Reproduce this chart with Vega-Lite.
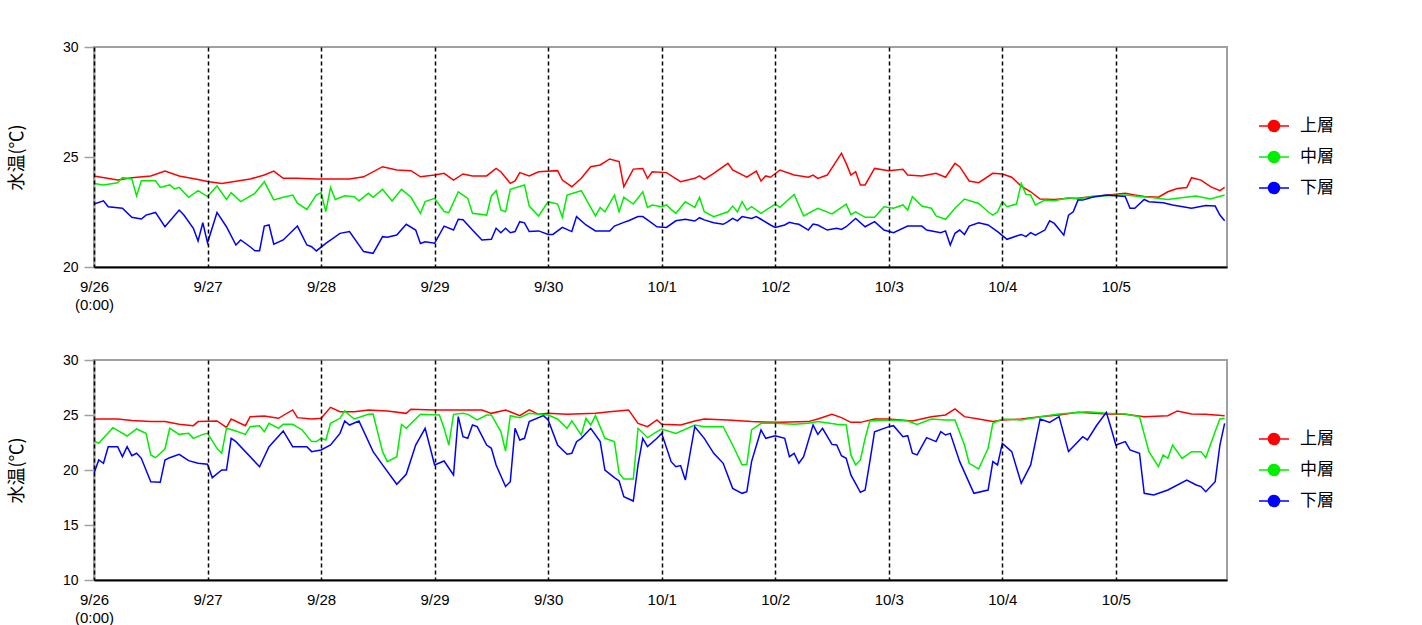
{
  "$schema": "https://vega.github.io/schema/vega-lite/v6.json",
  "background": "white",
  "padding": {"left": 7, "top": 39, "right": 0, "bottom": 0},
  "datasets": {
    "top": [
      {"h":0,"s":"上層","v":24.14},{"h":5,"s":"上層","v":23.95},{"h":8,"s":"上層","v":24.06},{"h":12,"s":"上層","v":24.14},{"h":15,"s":"上層","v":24.36},{"h":18,"s":"上層","v":24.14},{"h":22,"s":"上層","v":23.98},{"h":24,"s":"上層","v":23.89},{"h":27,"s":"上層","v":23.8},{"h":33,"s":"上層","v":24.0},{"h":36,"s":"上層","v":24.18},{"h":38,"s":"上層","v":24.36},{"h":40,"s":"上層","v":24.03},{"h":43,"s":"上層","v":24.03},{"h":47,"s":"上層","v":24.0},{"h":54,"s":"上層","v":24.0},{"h":57,"s":"上層","v":24.1},{"h":61,"s":"上層","v":24.56},{"h":64,"s":"上層","v":24.41},{"h":67,"s":"上層","v":24.38},{"h":69,"s":"上層","v":24.1},{"h":72,"s":"上層","v":24.18},{"h":74,"s":"上層","v":24.26},{"h":76,"s":"上層","v":23.95},{"h":78,"s":"上層","v":24.23},{"h":80,"s":"上層","v":24.14},{"h":83,"s":"上層","v":24.14},{"h":85,"s":"上層","v":24.48},{"h":86,"s":"上層","v":24.33},{"h":88,"s":"上層","v":23.8},{"h":89,"s":"上層","v":23.91},{"h":90,"s":"上層","v":24.29},{"h":92,"s":"上層","v":24.14},{"h":94,"s":"上層","v":24.33},{"h":98,"s":"上層","v":24.38},{"h":99,"s":"上層","v":23.95},{"h":101,"s":"上層","v":23.65},{"h":103,"s":"上層","v":24.03},{"h":105,"s":"上層","v":24.56},{"h":107,"s":"上層","v":24.64},{"h":109,"s":"上層","v":24.91},{"h":111,"s":"上層","v":24.79},{"h":112,"s":"上層","v":23.65},{"h":114,"s":"上層","v":24.45},{"h":116,"s":"上層","v":24.48},{"h":117,"s":"上層","v":24.03},{"h":118,"s":"上層","v":24.33},{"h":121,"s":"上層","v":24.29},{"h":124,"s":"上層","v":23.88},{"h":127,"s":"上層","v":24.03},{"h":128,"s":"上層","v":24.14},{"h":129,"s":"上層","v":23.98},{"h":131,"s":"上層","v":24.26},{"h":134,"s":"上層","v":24.71},{"h":135,"s":"上層","v":24.41},{"h":138,"s":"上層","v":24.08},{"h":140,"s":"上層","v":24.36},{"h":141,"s":"上層","v":23.91},{"h":142,"s":"上層","v":24.14},{"h":143,"s":"上層","v":24.08},{"h":145,"s":"上層","v":24.41},{"h":148,"s":"上層","v":24.18},{"h":151,"s":"上層","v":24.08},{"h":152,"s":"上層","v":24.18},{"h":153,"s":"上層","v":24.03},{"h":155,"s":"上層","v":24.18},{"h":158,"s":"上層","v":25.17},{"h":159,"s":"上層","v":24.71},{"h":160,"s":"上層","v":24.18},{"h":161,"s":"上層","v":24.33},{"h":162,"s":"上層","v":23.73},{"h":163,"s":"上層","v":23.73},{"h":165,"s":"上層","v":24.48},{"h":168,"s":"上層","v":24.38},{"h":171,"s":"上層","v":24.44},{"h":172,"s":"上層","v":24.18},{"h":175,"s":"上層","v":24.14},{"h":178,"s":"上層","v":24.26},{"h":180,"s":"上層","v":24.08},{"h":182,"s":"上層","v":24.71},{"h":183,"s":"上層","v":24.56},{"h":185,"s":"上層","v":23.91},{"h":187,"s":"上層","v":23.83},{"h":190,"s":"上層","v":24.26},{"h":192,"s":"上層","v":24.23},{"h":194,"s":"上層","v":24.08},{"h":196,"s":"上層","v":23.68},{"h":198,"s":"上層","v":23.42},{"h":200,"s":"上層","v":23.09},{"h":203,"s":"上層","v":23.07},{"h":206,"s":"上層","v":23.12},{"h":208,"s":"上層","v":23.12},{"h":211,"s":"上層","v":23.2},{"h":214,"s":"上層","v":23.26},{"h":218,"s":"上層","v":23.35},{"h":220,"s":"上層","v":23.27},{"h":222,"s":"上層","v":23.2},{"h":225,"s":"上層","v":23.17},{"h":227,"s":"上層","v":23.42},{"h":229,"s":"上層","v":23.57},{"h":231,"s":"上層","v":23.61},{"h":232,"s":"上層","v":24.06},{"h":234,"s":"上層","v":23.95},{"h":236,"s":"上層","v":23.65},{"h":238,"s":"上層","v":23.47},{"h":239,"s":"上層","v":23.62},
      {"h":0,"s":"中層","v":23.8},{"h":2,"s":"中層","v":23.73},{"h":5,"s":"中層","v":23.83},{"h":6,"s":"中層","v":24.07},{"h":8,"s":"中層","v":24.0},{"h":9,"s":"中層","v":23.23},{"h":10,"s":"中層","v":23.92},{"h":13,"s":"中層","v":23.92},{"h":14,"s":"中層","v":23.62},{"h":16,"s":"中層","v":23.73},{"h":17,"s":"中層","v":23.55},{"h":18,"s":"中層","v":23.62},{"h":20,"s":"中層","v":23.17},{"h":22,"s":"中層","v":23.47},{"h":24,"s":"中層","v":23.2},{"h":26,"s":"中層","v":23.68},{"h":28,"s":"中層","v":23.07},{"h":29,"s":"中層","v":23.38},{"h":31,"s":"中層","v":22.97},{"h":34,"s":"中層","v":23.35},{"h":36,"s":"中層","v":23.88},{"h":38,"s":"中層","v":23.05},{"h":40,"s":"中層","v":23.17},{"h":42,"s":"中層","v":23.27},{"h":43,"s":"中層","v":22.9},{"h":45,"s":"中層","v":22.62},{"h":47,"s":"中層","v":23.27},{"h":48,"s":"中層","v":23.38},{"h":49,"s":"中層","v":22.52},{"h":50,"s":"中層","v":23.62},{"h":51,"s":"中層","v":23.07},{"h":53,"s":"中層","v":23.24},{"h":55,"s":"中層","v":23.2},{"h":56,"s":"中層","v":23.01},{"h":58,"s":"中層","v":23.35},{"h":59,"s":"中層","v":23.17},{"h":61,"s":"中層","v":23.53},{"h":63,"s":"中層","v":23.0},{"h":65,"s":"中層","v":23.53},{"h":67,"s":"中層","v":23.17},{"h":69,"s":"中層","v":22.44},{"h":70,"s":"中層","v":22.97},{"h":72,"s":"中層","v":23.12},{"h":74,"s":"中層","v":22.52},{"h":75,"s":"中層","v":22.47},{"h":77,"s":"中層","v":23.42},{"h":78,"s":"中層","v":23.27},{"h":79,"s":"中層","v":23.12},{"h":80,"s":"中層","v":22.44},{"h":83,"s":"中層","v":22.36},{"h":84,"s":"中層","v":23.23},{"h":85,"s":"中層","v":23.47},{"h":86,"s":"中層","v":22.59},{"h":87,"s":"中層","v":22.51},{"h":88,"s":"中層","v":23.53},{"h":91,"s":"中層","v":23.73},{"h":92,"s":"中層","v":22.77},{"h":94,"s":"中層","v":22.32},{"h":96,"s":"中層","v":22.97},{"h":98,"s":"中層","v":22.86},{"h":99,"s":"中層","v":22.26},{"h":100,"s":"中層","v":23.27},{"h":103,"s":"中層","v":23.47},{"h":106,"s":"中層","v":22.32},{"h":107,"s":"中層","v":22.71},{"h":108,"s":"中層","v":22.51},{"h":110,"s":"中層","v":23.27},{"h":111,"s":"中層","v":22.51},{"h":112,"s":"中層","v":23.17},{"h":114,"s":"中層","v":22.86},{"h":116,"s":"中層","v":23.42},{"h":117,"s":"中層","v":22.71},{"h":118,"s":"中層","v":22.82},{"h":120,"s":"中層","v":22.74},{"h":121,"s":"中層","v":22.82},{"h":122,"s":"中層","v":22.62},{"h":123,"s":"中層","v":22.44},{"h":125,"s":"中層","v":22.97},{"h":127,"s":"中層","v":22.71},{"h":128,"s":"中層","v":23.17},{"h":129,"s":"中層","v":22.51},{"h":131,"s":"中層","v":22.29},{"h":134,"s":"中層","v":22.51},{"h":135,"s":"中層","v":22.77},{"h":136,"s":"中層","v":22.51},{"h":137,"s":"中層","v":22.97},{"h":138,"s":"中層","v":22.59},{"h":139,"s":"中層","v":22.74},{"h":141,"s":"中層","v":22.44},{"h":144,"s":"中層","v":22.86},{"h":145,"s":"中層","v":22.71},{"h":148,"s":"中層","v":23.3},{"h":150,"s":"中層","v":22.32},{"h":153,"s":"中層","v":22.67},{"h":156,"s":"中層","v":22.41},{"h":159,"s":"中層","v":22.86},{"h":160,"s":"中層","v":22.38},{"h":161,"s":"中層","v":22.51},{"h":163,"s":"中層","v":22.26},{"h":165,"s":"中層","v":22.26},{"h":167,"s":"中層","v":22.74},{"h":169,"s":"中層","v":22.67},{"h":171,"s":"中層","v":22.82},{"h":172,"s":"中層","v":22.59},{"h":173,"s":"中層","v":23.2},{"h":175,"s":"中層","v":22.77},{"h":177,"s":"中層","v":22.67},{"h":178,"s":"中層","v":22.32},{"h":180,"s":"中層","v":22.17},{"h":182,"s":"中層","v":22.67},{"h":184,"s":"中層","v":23.09},{"h":187,"s":"中層","v":22.89},{"h":189,"s":"中層","v":22.51},{"h":190,"s":"中層","v":22.36},{"h":191,"s":"中層","v":22.51},{"h":192,"s":"中層","v":22.97},{"h":193,"s":"中層","v":22.74},{"h":195,"s":"中層","v":22.86},{"h":196,"s":"中層","v":23.8},{"h":197,"s":"中層","v":23.3},{"h":198,"s":"中層","v":23.27},{"h":199,"s":"中層","v":22.82},{"h":201,"s":"中層","v":23.04},{"h":203,"s":"中層","v":23.01},{"h":206,"s":"中層","v":23.15},{"h":208,"s":"中層","v":23.09},{"h":211,"s":"中層","v":23.2},{"h":214,"s":"中層","v":23.24},{"h":218,"s":"中層","v":23.27},{"h":221,"s":"中層","v":23.2},{"h":224,"s":"中層","v":23.15},{"h":227,"s":"中層","v":23.07},{"h":229,"s":"中層","v":23.12},{"h":233,"s":"中層","v":23.23},{"h":236,"s":"中層","v":23.09},{"h":239,"s":"中層","v":23.27},
      {"h":0,"s":"下層","v":22.86},{"h":2,"s":"下層","v":23.01},{"h":3,"s":"下層","v":22.74},{"h":6,"s":"下層","v":22.67},{"h":8,"s":"下層","v":22.26},{"h":10,"s":"下層","v":22.18},{"h":11,"s":"下層","v":22.36},{"h":13,"s":"下層","v":22.48},{"h":15,"s":"下層","v":21.83},{"h":18,"s":"下層","v":22.59},{"h":19,"s":"下層","v":22.36},{"h":21,"s":"下層","v":21.76},{"h":22,"s":"下層","v":21.18},{"h":23,"s":"下層","v":22.01},{"h":24,"s":"下層","v":21.1},{"h":26,"s":"下層","v":22.48},{"h":28,"s":"下層","v":21.83},{"h":30,"s":"下層","v":21.0},{"h":31,"s":"下層","v":21.23},{"h":33,"s":"下層","v":20.92},{"h":34,"s":"下層","v":20.74},{"h":35,"s":"下層","v":20.74},{"h":36,"s":"下層","v":21.86},{"h":37,"s":"下層","v":21.91},{"h":38,"s":"下層","v":21.04},{"h":40,"s":"下層","v":21.23},{"h":43,"s":"下層","v":21.86},{"h":45,"s":"下層","v":21.0},{"h":46,"s":"下層","v":20.92},{"h":47,"s":"下層","v":20.73},{"h":49,"s":"下層","v":21.07},{"h":52,"s":"下層","v":21.53},{"h":54,"s":"下層","v":21.61},{"h":57,"s":"下層","v":20.7},{"h":59,"s":"下層","v":20.62},{"h":61,"s":"下層","v":21.38},{"h":62,"s":"下層","v":21.35},{"h":64,"s":"下層","v":21.45},{"h":66,"s":"下層","v":21.94},{"h":68,"s":"下層","v":21.68},{"h":69,"s":"下層","v":21.07},{"h":70,"s":"下層","v":21.15},{"h":72,"s":"下層","v":21.08},{"h":74,"s":"下層","v":21.86},{"h":76,"s":"下層","v":21.68},{"h":77,"s":"下層","v":22.17},{"h":78,"s":"下層","v":22.15},{"h":80,"s":"下層","v":21.68},{"h":82,"s":"下層","v":21.23},{"h":84,"s":"下層","v":21.26},{"h":85,"s":"下層","v":21.76},{"h":86,"s":"下層","v":21.56},{"h":87,"s":"下層","v":21.76},{"h":88,"s":"下層","v":21.56},{"h":89,"s":"下層","v":21.61},{"h":90,"s":"下層","v":22.06},{"h":91,"s":"下層","v":22.01},{"h":92,"s":"下層","v":21.61},{"h":94,"s":"下層","v":21.64},{"h":96,"s":"下層","v":21.48},{"h":97,"s":"下層","v":21.48},{"h":99,"s":"下層","v":21.8},{"h":101,"s":"下層","v":21.61},{"h":102,"s":"下層","v":22.29},{"h":104,"s":"下層","v":21.91},{"h":106,"s":"下層","v":21.64},{"h":109,"s":"下層","v":21.64},{"h":110,"s":"下層","v":21.86},{"h":112,"s":"下層","v":22.03},{"h":113,"s":"下層","v":22.1},{"h":115,"s":"下層","v":22.29},{"h":116,"s":"下層","v":22.29},{"h":117,"s":"下層","v":22.14},{"h":119,"s":"下層","v":21.83},{"h":121,"s":"下層","v":21.8},{"h":123,"s":"下層","v":22.1},{"h":125,"s":"下層","v":22.17},{"h":127,"s":"下層","v":22.09},{"h":128,"s":"下層","v":22.24},{"h":129,"s":"下層","v":22.14},{"h":131,"s":"下層","v":22.01},{"h":133,"s":"下層","v":21.94},{"h":134,"s":"下層","v":22.06},{"h":135,"s":"下層","v":22.21},{"h":136,"s":"下層","v":22.1},{"h":137,"s":"下層","v":22.29},{"h":139,"s":"下層","v":22.21},{"h":140,"s":"下層","v":22.29},{"h":141,"s":"下層","v":22.17},{"h":143,"s":"下層","v":21.91},{"h":144,"s":"下層","v":21.8},{"h":146,"s":"下層","v":21.91},{"h":147,"s":"下層","v":22.03},{"h":148,"s":"下層","v":21.98},{"h":149,"s":"下層","v":21.94},{"h":151,"s":"下層","v":21.68},{"h":152,"s":"下層","v":21.95},{"h":153,"s":"下層","v":21.91},{"h":155,"s":"下層","v":21.68},{"h":157,"s":"下層","v":21.76},{"h":158,"s":"下層","v":21.71},{"h":159,"s":"下層","v":21.83},{"h":161,"s":"下層","v":22.21},{"h":163,"s":"下層","v":21.83},{"h":165,"s":"下層","v":22.06},{"h":167,"s":"下層","v":21.68},{"h":169,"s":"下層","v":21.56},{"h":172,"s":"下層","v":21.86},{"h":175,"s":"下層","v":21.86},{"h":176,"s":"下層","v":21.68},{"h":179,"s":"下層","v":21.56},{"h":180,"s":"下層","v":21.64},{"h":181,"s":"下層","v":21.0},{"h":182,"s":"下層","v":21.53},{"h":183,"s":"下層","v":21.68},{"h":184,"s":"下層","v":21.48},{"h":185,"s":"下層","v":21.86},{"h":187,"s":"下層","v":22.01},{"h":189,"s":"下層","v":21.91},{"h":191,"s":"下層","v":21.61},{"h":193,"s":"下層","v":21.26},{"h":195,"s":"下層","v":21.41},{"h":196,"s":"下層","v":21.48},{"h":197,"s":"下層","v":21.38},{"h":198,"s":"下層","v":21.56},{"h":199,"s":"下層","v":21.45},{"h":201,"s":"下層","v":21.68},{"h":202,"s":"下層","v":22.1},{"h":203,"s":"下層","v":21.98},{"h":205,"s":"下層","v":21.45},{"h":206,"s":"下層","v":22.36},{"h":207,"s":"下層","v":22.51},{"h":208,"s":"下層","v":23.04},{"h":209,"s":"下層","v":23.04},{"h":211,"s":"下層","v":23.17},{"h":214,"s":"下層","v":23.27},{"h":218,"s":"下層","v":23.2},{"h":219,"s":"下層","v":22.67},{"h":220,"s":"下層","v":22.67},{"h":222,"s":"下層","v":23.07},{"h":223,"s":"下層","v":22.97},{"h":226,"s":"下層","v":22.92},{"h":228,"s":"下層","v":22.82},{"h":232,"s":"下層","v":22.67},{"h":235,"s":"下層","v":22.79},{"h":237,"s":"下層","v":22.77},{"h":238,"s":"下層","v":22.36},{"h":239,"s":"下層","v":22.1}
    ],
    "bottom": [
      {"h":0,"s":"上層","v":24.64},{"h":5,"s":"上層","v":24.64},{"h":8,"s":"上層","v":24.49},{"h":12,"s":"上層","v":24.4},{"h":15,"s":"上層","v":24.4},{"h":18,"s":"上層","v":24.15},{"h":21,"s":"上層","v":24.03},{"h":22,"s":"上層","v":24.4},{"h":26,"s":"上層","v":24.46},{"h":28,"s":"上層","v":23.88},{"h":29,"s":"上層","v":24.64},{"h":32,"s":"上層","v":24.03},{"h":33,"s":"上層","v":24.85},{"h":36,"s":"上層","v":24.91},{"h":39,"s":"上層","v":24.7},{"h":42,"s":"上層","v":25.46},{"h":43,"s":"上層","v":24.76},{"h":46,"s":"上層","v":24.64},{"h":48,"s":"上層","v":24.7},{"h":50,"s":"上層","v":25.7},{"h":52,"s":"上層","v":25.3},{"h":55,"s":"上層","v":25.3},{"h":58,"s":"上層","v":25.46},{"h":62,"s":"上層","v":25.37},{"h":66,"s":"上層","v":25.15},{"h":67,"s":"上層","v":25.52},{"h":72,"s":"上層","v":25.46},{"h":76,"s":"上層","v":25.46},{"h":80,"s":"上層","v":25.46},{"h":82,"s":"上層","v":25.46},{"h":84,"s":"上層","v":25.15},{"h":87,"s":"上層","v":25.46},{"h":90,"s":"上層","v":24.94},{"h":92,"s":"上層","v":25.46},{"h":94,"s":"上層","v":25.06},{"h":96,"s":"上層","v":25.15},{"h":100,"s":"上層","v":25.06},{"h":106,"s":"上層","v":25.15},{"h":109,"s":"上層","v":25.3},{"h":113,"s":"上層","v":25.46},{"h":115,"s":"上層","v":24.24},{"h":117,"s":"上層","v":23.94},{"h":119,"s":"上層","v":24.55},{"h":120,"s":"上層","v":24.15},{"h":124,"s":"上層","v":24.09},{"h":127,"s":"上層","v":24.46},{"h":129,"s":"上層","v":24.64},{"h":134,"s":"上層","v":24.55},{"h":139,"s":"上層","v":24.4},{"h":145,"s":"上層","v":24.33},{"h":151,"s":"上層","v":24.4},{"h":153,"s":"上層","v":24.64},{"h":156,"s":"上層","v":25.06},{"h":158,"s":"上層","v":24.76},{"h":160,"s":"上層","v":24.33},{"h":162,"s":"上層","v":24.33},{"h":165,"s":"上層","v":24.64},{"h":168,"s":"上層","v":24.64},{"h":173,"s":"上層","v":24.46},{"h":177,"s":"上層","v":24.85},{"h":180,"s":"上層","v":25.0},{"h":182,"s":"上層","v":25.55},{"h":184,"s":"上層","v":24.85},{"h":187,"s":"上層","v":24.64},{"h":190,"s":"上層","v":24.4},{"h":192,"s":"上層","v":24.55},{"h":196,"s":"上層","v":24.64},{"h":200,"s":"上層","v":24.85},{"h":204,"s":"上層","v":25.0},{"h":208,"s":"上層","v":25.24},{"h":214,"s":"上層","v":25.09},{"h":218,"s":"上層","v":25.06},{"h":222,"s":"上層","v":24.85},{"h":227,"s":"上層","v":24.94},{"h":229,"s":"上層","v":25.37},{"h":232,"s":"上層","v":25.09},{"h":235,"s":"上層","v":25.06},{"h":239,"s":"上層","v":24.94},
      {"h":0,"s":"中層","v":22.64},{"h":1,"s":"中層","v":22.43},{"h":4,"s":"中層","v":23.85},{"h":7,"s":"中層","v":23.09},{"h":9,"s":"中層","v":23.73},{"h":11,"s":"中層","v":23.33},{"h":12,"s":"中層","v":21.37},{"h":13,"s":"中層","v":21.12},{"h":15,"s":"中層","v":21.91},{"h":16,"s":"中層","v":23.79},{"h":18,"s":"中層","v":23.24},{"h":20,"s":"中層","v":23.33},{"h":21,"s":"中層","v":22.88},{"h":23,"s":"中層","v":23.24},{"h":24,"s":"中層","v":23.33},{"h":26,"s":"中層","v":21.97},{"h":27,"s":"中層","v":21.52},{"h":28,"s":"中層","v":23.79},{"h":30,"s":"中層","v":23.55},{"h":32,"s":"中層","v":23.24},{"h":33,"s":"中層","v":23.94},{"h":35,"s":"中層","v":24.03},{"h":36,"s":"中層","v":23.49},{"h":37,"s":"中層","v":24.24},{"h":39,"s":"中層","v":23.79},{"h":40,"s":"中層","v":24.15},{"h":42,"s":"中層","v":24.15},{"h":44,"s":"中層","v":23.64},{"h":46,"s":"中層","v":22.58},{"h":47,"s":"中層","v":22.58},{"h":48,"s":"中層","v":22.88},{"h":49,"s":"中層","v":22.73},{"h":50,"s":"中層","v":24.24},{"h":52,"s":"中層","v":24.7},{"h":53,"s":"中層","v":25.37},{"h":55,"s":"中層","v":24.64},{"h":58,"s":"中層","v":25.06},{"h":59,"s":"中層","v":25.09},{"h":61,"s":"中層","v":21.67},{"h":62,"s":"中層","v":20.76},{"h":64,"s":"中層","v":21.21},{"h":65,"s":"中層","v":24.15},{"h":66,"s":"中層","v":23.79},{"h":69,"s":"中層","v":25.06},{"h":73,"s":"中層","v":25.0},{"h":74,"s":"中層","v":23.79},{"h":75,"s":"中層","v":22.27},{"h":76,"s":"中層","v":25.06},{"h":78,"s":"中層","v":25.15},{"h":79,"s":"中層","v":25.06},{"h":81,"s":"中層","v":24.55},{"h":83,"s":"中層","v":25.0},{"h":84,"s":"中層","v":25.0},{"h":86,"s":"中層","v":23.49},{"h":87,"s":"中層","v":21.73},{"h":88,"s":"中層","v":24.94},{"h":90,"s":"中層","v":24.76},{"h":92,"s":"中層","v":25.15},{"h":94,"s":"中層","v":25.06},{"h":96,"s":"中層","v":25.0},{"h":98,"s":"中層","v":24.64},{"h":100,"s":"中層","v":23.79},{"h":101,"s":"中層","v":24.46},{"h":103,"s":"中層","v":23.18},{"h":104,"s":"中層","v":24.7},{"h":105,"s":"中層","v":24.09},{"h":106,"s":"中層","v":24.94},{"h":108,"s":"中層","v":22.88},{"h":110,"s":"中層","v":22.58},{"h":111,"s":"中層","v":19.7},{"h":112,"s":"中層","v":19.18},{"h":114,"s":"中層","v":19.18},{"h":115,"s":"中層","v":23.79},{"h":117,"s":"中層","v":22.94},{"h":119,"s":"中層","v":23.49},{"h":120,"s":"中層","v":23.73},{"h":123,"s":"中層","v":23.33},{"h":127,"s":"中層","v":24.09},{"h":129,"s":"中層","v":23.94},{"h":133,"s":"中層","v":23.94},{"h":135,"s":"中層","v":22.27},{"h":137,"s":"中層","v":20.46},{"h":138,"s":"中層","v":20.52},{"h":139,"s":"中層","v":23.64},{"h":141,"s":"中層","v":24.24},{"h":144,"s":"中層","v":24.24},{"h":148,"s":"中層","v":24.15},{"h":151,"s":"中層","v":24.24},{"h":153,"s":"中層","v":24.4},{"h":157,"s":"中層","v":24.15},{"h":159,"s":"中層","v":24.09},{"h":160,"s":"中層","v":21.37},{"h":161,"s":"中層","v":20.46},{"h":162,"s":"中層","v":20.91},{"h":163,"s":"中層","v":22.88},{"h":164,"s":"中層","v":24.46},{"h":168,"s":"中層","v":24.55},{"h":172,"s":"中層","v":24.46},{"h":174,"s":"中層","v":24.15},{"h":177,"s":"中層","v":24.64},{"h":180,"s":"中層","v":24.55},{"h":182,"s":"中層","v":24.55},{"h":184,"s":"中層","v":22.27},{"h":185,"s":"中層","v":20.61},{"h":187,"s":"中層","v":20.09},{"h":189,"s":"中層","v":21.97},{"h":190,"s":"中層","v":24.24},{"h":192,"s":"中層","v":24.64},{"h":196,"s":"中層","v":24.55},{"h":200,"s":"中層","v":24.85},{"h":204,"s":"中層","v":25.09},{"h":210,"s":"中層","v":25.3},{"h":214,"s":"中層","v":25.15},{"h":218,"s":"中層","v":25.09},{"h":221,"s":"中層","v":24.85},{"h":223,"s":"中層","v":21.67},{"h":225,"s":"中層","v":20.3},{"h":226,"s":"中層","v":21.37},{"h":227,"s":"中層","v":21.06},{"h":228,"s":"中層","v":22.27},{"h":230,"s":"中層","v":21.06},{"h":232,"s":"中層","v":21.67},{"h":234,"s":"中層","v":21.67},{"h":235,"s":"中層","v":21.12},{"h":237,"s":"中層","v":23.49},{"h":238,"s":"中層","v":24.64},{"h":239,"s":"中層","v":24.7},
      {"h":0,"s":"下層","v":19.7},{"h":1,"s":"下層","v":20.91},{"h":2,"s":"下層","v":20.61},{"h":3,"s":"下層","v":22.12},{"h":5,"s":"下層","v":22.12},{"h":6,"s":"下層","v":21.21},{"h":7,"s":"下層","v":22.12},{"h":8,"s":"下層","v":21.3},{"h":9,"s":"下層","v":21.52},{"h":10,"s":"下層","v":21.06},{"h":12,"s":"下層","v":18.94},{"h":14,"s":"下層","v":18.88},{"h":15,"s":"下層","v":20.91},{"h":16,"s":"下層","v":21.12},{"h":18,"s":"下層","v":21.43},{"h":20,"s":"下層","v":20.85},{"h":22,"s":"下層","v":20.61},{"h":24,"s":"下層","v":20.52},{"h":25,"s":"下層","v":19.3},{"h":27,"s":"下層","v":20.0},{"h":28,"s":"下層","v":20.0},{"h":29,"s":"下層","v":22.88},{"h":30,"s":"下層","v":22.58},{"h":35,"s":"下層","v":20.3},{"h":37,"s":"下層","v":22.12},{"h":40,"s":"下層","v":23.55},{"h":42,"s":"下層","v":22.12},{"h":45,"s":"下層","v":22.12},{"h":46,"s":"下層","v":21.67},{"h":48,"s":"下層","v":21.82},{"h":50,"s":"下層","v":22.27},{"h":52,"s":"下層","v":23.33},{"h":53,"s":"下層","v":24.46},{"h":54,"s":"下層","v":24.09},{"h":56,"s":"下層","v":24.46},{"h":59,"s":"下層","v":21.67},{"h":61,"s":"下層","v":20.46},{"h":64,"s":"下層","v":18.7},{"h":66,"s":"下層","v":19.61},{"h":68,"s":"下層","v":22.27},{"h":70,"s":"下層","v":23.79},{"h":72,"s":"下層","v":20.46},{"h":74,"s":"下層","v":20.82},{"h":76,"s":"下層","v":19.55},{"h":77,"s":"下層","v":24.85},{"h":78,"s":"下層","v":23.03},{"h":79,"s":"下層","v":22.88},{"h":80,"s":"下層","v":24.09},{"h":81,"s":"下層","v":23.94},{"h":83,"s":"下層","v":22.27},{"h":84,"s":"下層","v":21.97},{"h":85,"s":"下層","v":20.46},{"h":87,"s":"下層","v":18.5},{"h":88,"s":"下層","v":18.94},{"h":89,"s":"下層","v":23.79},{"h":90,"s":"下層","v":22.73},{"h":91,"s":"下層","v":22.88},{"h":92,"s":"下層","v":24.4},{"h":95,"s":"下層","v":24.94},{"h":96,"s":"下層","v":24.55},{"h":98,"s":"下層","v":22.27},{"h":100,"s":"下層","v":21.43},{"h":101,"s":"下層","v":21.52},{"h":102,"s":"下層","v":22.58},{"h":103,"s":"下層","v":22.88},{"h":105,"s":"下層","v":23.79},{"h":107,"s":"下層","v":22.58},{"h":108,"s":"下層","v":20.0},{"h":110,"s":"下層","v":19.3},{"h":111,"s":"下層","v":19.0},{"h":112,"s":"下層","v":17.58},{"h":114,"s":"下層","v":17.18},{"h":115,"s":"下層","v":20.46},{"h":116,"s":"下層","v":22.88},{"h":117,"s":"下層","v":22.12},{"h":119,"s":"下層","v":22.88},{"h":120,"s":"下層","v":23.33},{"h":122,"s":"下層","v":20.76},{"h":123,"s":"下層","v":20.3},{"h":124,"s":"下層","v":20.4},{"h":125,"s":"下層","v":19.09},{"h":127,"s":"下層","v":23.94},{"h":129,"s":"下層","v":22.88},{"h":131,"s":"下層","v":21.52},{"h":133,"s":"下層","v":20.61},{"h":135,"s":"下層","v":18.33},{"h":137,"s":"下層","v":17.88},{"h":138,"s":"下層","v":18.03},{"h":139,"s":"下層","v":20.76},{"h":141,"s":"下層","v":23.64},{"h":142,"s":"下層","v":22.88},{"h":144,"s":"下層","v":23.12},{"h":146,"s":"下層","v":22.88},{"h":147,"s":"下層","v":21.21},{"h":148,"s":"下層","v":21.52},{"h":149,"s":"下層","v":20.61},{"h":150,"s":"下層","v":21.21},{"h":152,"s":"下層","v":24.09},{"h":153,"s":"下層","v":23.24},{"h":154,"s":"下層","v":23.79},{"h":156,"s":"下層","v":22.33},{"h":157,"s":"下層","v":22.27},{"h":158,"s":"下層","v":21.3},{"h":159,"s":"下層","v":21.06},{"h":160,"s":"下層","v":19.55},{"h":162,"s":"下層","v":17.97},{"h":163,"s":"下層","v":18.18},{"h":164,"s":"下層","v":20.76},{"h":165,"s":"下層","v":23.48},{"h":168,"s":"下層","v":23.94},{"h":169,"s":"下層","v":24.03},{"h":171,"s":"下層","v":23.03},{"h":172,"s":"下層","v":23.12},{"h":173,"s":"下層","v":21.52},{"h":174,"s":"下層","v":21.37},{"h":176,"s":"下層","v":22.94},{"h":178,"s":"下層","v":22.58},{"h":179,"s":"下層","v":23.48},{"h":180,"s":"下層","v":23.18},{"h":181,"s":"下層","v":23.33},{"h":183,"s":"下層","v":20.76},{"h":186,"s":"下層","v":17.88},{"h":189,"s":"下層","v":18.18},{"h":190,"s":"下層","v":20.76},{"h":191,"s":"下層","v":20.46},{"h":192,"s":"下層","v":22.42},{"h":194,"s":"下層","v":21.67},{"h":196,"s":"下層","v":18.79},{"h":198,"s":"下層","v":20.46},{"h":200,"s":"下層","v":24.64},{"h":202,"s":"下層","v":24.33},{"h":204,"s":"下層","v":24.85},{"h":206,"s":"下層","v":21.67},{"h":209,"s":"下層","v":23.03},{"h":210,"s":"下層","v":22.73},{"h":212,"s":"下層","v":24.09},{"h":214,"s":"下層","v":25.24},{"h":215,"s":"下層","v":23.79},{"h":216,"s":"下層","v":22.27},{"h":218,"s":"下層","v":22.58},{"h":219,"s":"下層","v":21.82},{"h":221,"s":"下層","v":21.52},{"h":222,"s":"下層","v":17.88},{"h":224,"s":"下層","v":17.73},{"h":227,"s":"下層","v":18.18},{"h":231,"s":"下層","v":19.09},{"h":233,"s":"下層","v":18.64},{"h":234,"s":"下層","v":18.49},{"h":235,"s":"下層","v":18.03},{"h":237,"s":"下層","v":18.94},{"h":238,"s":"下層","v":22.27},{"h":239,"s":"下層","v":24.24}
    ]
  },
  "vconcat": [
    {
      "width": 1133,
      "height": 220,
      "data": {"name": "top"},
      "mark": {"type": "line", "strokeWidth": 1.5, "clip": true},
      "encoding": {
        "x": {
          "field": "h", "type": "quantitative",
          "scale": {"domain": [0, 239.5], "nice": false, "zero": false},
          "axis": {
            "values": [0, 24, 48, 72, 96, 120, 144, 168, 192, 216],
            "labelExpr": "datum.value == 0 ? ['9/26', '(0:00)'] : timeFormat(datetime(2023, 8, 26 + datum.value / 24), '%-m/%-d')",
            "title": null, "zindex": 1, "grid": true, "gridColor": "black", "gridDash": [4, 3], "gridWidth": 1.5,
            "ticks": false, "domainColor": "black", "domainWidth": 2, "labelPadding": 12, "labelLineHeight": 18,
            "labelFlush": false, "labelFontSize": 15
          }
        },
        "y": {
          "field": "v", "type": "quantitative",
          "scale": {"domain": [20, 30], "nice": false, "zero": false},
          "axis": {
            "values": [20, 25, 30], "grid": false, "title": "水温(℃)",
            "titleX": -77, "titleY": 110, "titleBaseline": "middle", "titleAlign": "center"
          }
        },
        "color": {
          "field": "s", "type": "nominal",
          "scale": {"domain": ["上層", "中層", "下層"], "range": ["#ff0000", "#00ee00", "#0000ff"]},
          "legend": {
            "orient": "none", "legendX": 1164, "legendY": 63, "title": null,
            "encode": {"symbols": {"update": {"fill": {"scale": "color", "field": "value"}, "stroke": {"scale": "color", "field": "value"}}}}
          }
        }
      }
    },
    {
      "width": 1133,
      "height": 220,
      "data": {"name": "bottom"},
      "mark": {"type": "line", "strokeWidth": 1.5, "clip": true},
      "encoding": {
        "x": {
          "field": "h", "type": "quantitative",
          "scale": {"domain": [0, 239.5], "nice": false, "zero": false},
          "axis": {
            "values": [0, 24, 48, 72, 96, 120, 144, 168, 192, 216],
            "labelExpr": "datum.value == 0 ? ['9/26', '(0:00)'] : timeFormat(datetime(2023, 8, 26 + datum.value / 24), '%-m/%-d')",
            "title": null, "zindex": 1, "grid": true, "gridColor": "black", "gridDash": [4, 3], "gridWidth": 1.5,
            "ticks": false, "domainColor": "black", "domainWidth": 2, "labelPadding": 12, "labelLineHeight": 18,
            "labelFlush": false, "labelFontSize": 15
          }
        },
        "y": {
          "field": "v", "type": "quantitative",
          "scale": {"domain": [10, 30], "nice": false, "zero": false},
          "axis": {
            "values": [10, 15, 20, 25, 30], "grid": false, "title": "水温(℃)",
            "titleX": -77, "titleY": 110, "titleBaseline": "middle", "titleAlign": "center"
          }
        },
        "color": {
          "field": "s", "type": "nominal",
          "scale": {"domain": ["上層", "中層", "下層"], "range": ["#ff0000", "#00ee00", "#0000ff"]},
          "legend": {
            "orient": "none", "legendX": 1164, "legendY": 63, "title": null,
            "encode": {"symbols": {"update": {"fill": {"scale": "color", "field": "value"}, "stroke": {"scale": "color", "field": "value"}}}}
          }
        }
      }
    }
  ],
  "spacing": 93,
  "bounds": "flush",
  "resolve": {"scale": {"y": "independent"}, "legend": {"color": "independent"}},
  "config": {
    "view": {"stroke": "#a0a0a0", "strokeWidth": 2},
    "axis": {
      "labelFont": "Liberation Sans", "labelFontSize": 14, "labelColor": "black",
      "titleFont": "Noto Sans CJK JP", "titleFontSize": 18, "titleFontWeight": "normal", "titleColor": "black"
    },
    "axisY": {
      "domainColor": "#a0a0a0", "domainWidth": 2, "tickColor": "#a0a0a0", "tickSize": 10, "tickWidth": 1.5, "labelPadding": 6
    },
    "legend": {
      "padding": 0, "offset": 0, "rowPadding": 6,
      "symbolType": "M-1,0L1,0M-0.37,0A0.37,0.37,0,1,1,0.37,0A0.37,0.37,0,1,1,-0.37,0Z",
      "symbolSize": 900, "symbolStrokeWidth": 1.5, "symbolOpacity": 1,
      "labelFont": "Noto Sans CJK JP", "labelFontSize": 17, "labelColor": "black", "labelOffset": 10
    }
  }
}
